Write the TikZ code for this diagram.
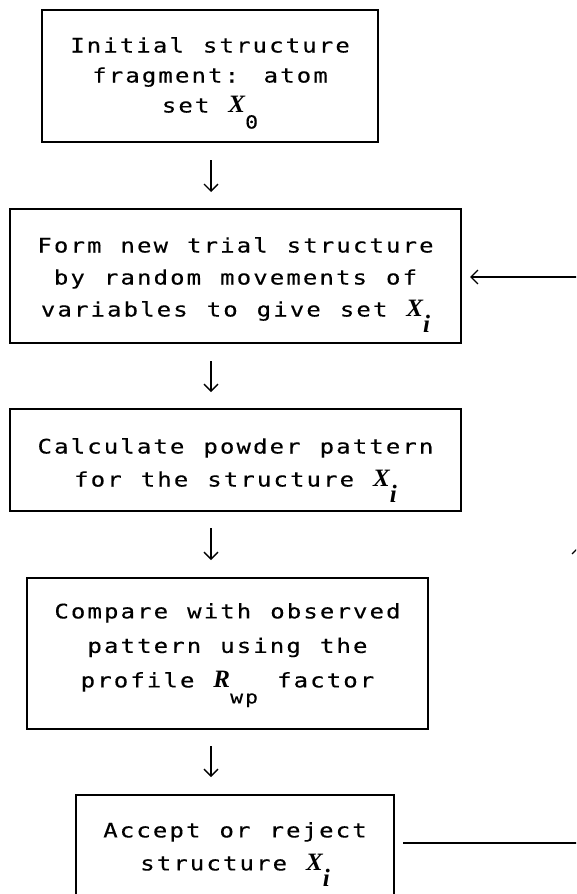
\documentclass[tikz,border=0pt]{standalone}
\usepackage{fontspec}
\usetikzlibrary{arrows.meta}
\newfontfamily\monof{DejaVu Sans Mono}[FakeStretch=1.2,FakeBold=0.3,LetterSpace=10.5,WordSpace=1.15]
\newfontfamily\serf{Liberation Serif}
\newcommand\varX{{\serf\bfseries\itshape\fontsize{25}{25}\selectfont X}}
\newcommand\varR{{\serf\bfseries\itshape\fontsize{25}{25}\selectfont R}}
\newcommand\lowsub[1]{\raisebox{-16pt}{\fontsize{18}{18}\selectfont #1}}
\newcommand\lowi{\raisebox{-16pt}{\serf\bfseries\itshape\fontsize{25}{25}\selectfont i}}
\begin{document}
\begin{tikzpicture}[x=1pt,y=-1pt,
  box/.style={draw, line width=2pt, inner sep=0pt},
  txt/.style={anchor=north, inner sep=0pt, align=center,
    font=\monof\fontsize{20}{#1}\selectfont},
  arr/.style={line width=1.4pt, -{Straight Barb[length=7pt,width=14pt]}},
  fb/.style={line width=1.5pt}]
\useasboundingbox (0,0) rectangle (576,894);
\clip (0,0) rectangle (576,894);
% boxes
\node[box, minimum width=336pt, minimum height=132pt] (b1) at (210,76) {};
\node[box, minimum width=451pt, minimum height=134pt] (b2) at (235.5,276) {};
\node[box, minimum width=451pt, minimum height=102pt] (b3) at (235.5,460) {};
\node[box, minimum width=401pt, minimum height=151pt] (b4) at (227.5,653.5) {};
\node[box, minimum width=318pt, minimum height=104pt] (b5) at (235,847) {};
% texts
\node[txt=30] (t1) at (210,37) {Initial structure\\fragment: atom\\set \varX\lowsub{0}};
\node[txt=32] (t2) at (235.5,237) {Form new trial structure\\by random movements of\\variables to give set \varX\lowi};
\node[txt=33] (t3) at (235.5,438) {Calculate powder pattern\\for the structure \varX\lowi};
\node[txt=34.5] (t4) at (227.5,603) {Compare with observed\\pattern using the\\profile \varR\lowsub{wp} factor};
\node[txt=33] (t5) at (235,822) {Accept or reject\\structure \varX\lowi};
% downward arrows
\coordinate (ax) at (211,0);
\draw[arr, shorten <=17pt, shorten >=16pt] (ax |- b1.south) -- (ax |- b2.north);
\draw[arr, shorten <=17pt, shorten >=16pt] (ax |- b2.south) -- (ax |- b3.north);
\draw[arr, shorten <=16pt, shorten >=17pt] (ax |- b3.south) -- (ax |- b4.north);
\draw[arr, shorten <=16pt, shorten >=17pt] (ax |- b4.south) -- (ax |- b5.north);
% feedback loop
\coordinate (fr) at (579,843);
\coordinate (fm) at (579,546);
\coordinate (ft) at (579,277);
\draw[fb] ([xshift=8pt]b5.east |- fr) -- (fr);
\draw[arr] (fr) -- (fm);
\draw[fb] (fm) -- (ft);
\draw[arr] (ft) -- ([xshift=8pt]b2.east |- ft);
\end{tikzpicture}
\end{document}
